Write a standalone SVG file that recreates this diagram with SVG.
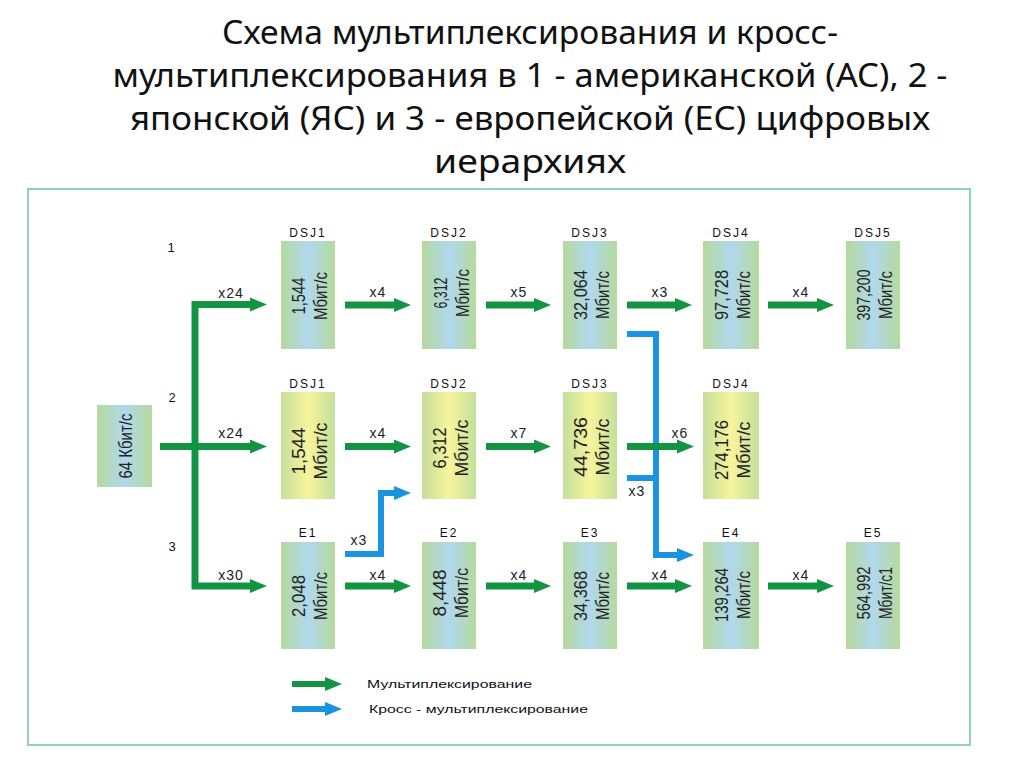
<svg xmlns="http://www.w3.org/2000/svg" width="1024" height="767" viewBox="0 0 1024 767">
<defs>
<linearGradient id="gb" x1="0" y1="0" x2="1" y2="0">
<stop offset="0" stop-color="#b5d99c"/><stop offset="0.5" stop-color="#b0d8ee"/><stop offset="1" stop-color="#b5d99c"/>
</linearGradient>
<linearGradient id="gy" x1="0" y1="0" x2="1" y2="0">
<stop offset="0" stop-color="#c4df9a"/><stop offset="0.5" stop-color="#f7f49c"/><stop offset="1" stop-color="#c4df9a"/>
</linearGradient>
<marker id="ag" markerUnits="userSpaceOnUse" markerWidth="18" markerHeight="16" viewBox="0 0 18 16" refX="2" refY="8" orient="auto">
<path d="M0,1 L17,8 L0,15 Z" fill="#129443"/>
</marker>
<marker id="ab" markerUnits="userSpaceOnUse" markerWidth="18" markerHeight="16" viewBox="0 0 18 16" refX="2" refY="8" orient="auto">
<path d="M0,1 L17,8 L0,15 Z" fill="#1a93e0"/>
</marker>
<style>
.title{font-family:"Noto Sans","Open Sans",sans-serif;font-size:32px;fill:#111;text-anchor:middle}
.bx{stroke:none}
.v{font-family:"Liberation Sans",Arial,sans-serif;font-size:18px;fill:#222;text-anchor:middle}
.lb{font-family:"Liberation Sans",Arial,sans-serif;font-size:12px;fill:#111;text-anchor:middle;letter-spacing:2px}
.m{font-family:"Liberation Sans",Arial,sans-serif;font-size:14px;fill:#222;text-anchor:middle;letter-spacing:1px}
.n{font-family:"Liberation Sans",Arial,sans-serif;font-size:13px;fill:#111;text-anchor:middle}
.lg{font-family:"Liberation Sans",Arial,sans-serif;font-size:11px;fill:#111}
.g{stroke:#129443;stroke-width:7;fill:none}
.gh{stroke:#129443;stroke-width:7;fill:none;marker-end:url(#ag)}
.b{stroke:#1a93e0;stroke-width:6;fill:none}
.bh{stroke:#1a93e0;stroke-width:6;fill:none;marker-end:url(#ab)}
</style>
</defs>
<rect width="1024" height="767" fill="#ffffff"/>
<g id="title">
<text class="title" x="530" y="44" textLength="616" lengthAdjust="spacingAndGlyphs">Схема мультиплексирования и кросс-</text>
<text class="title" x="530" y="87" textLength="835" lengthAdjust="spacingAndGlyphs">мультиплексирования в 1 - американской (АС), 2 -</text>
<text class="title" x="530" y="130" textLength="800" lengthAdjust="spacingAndGlyphs">японской (ЯС) и 3 - европейской (ЕС) цифровых</text>
<text class="title" x="530" y="173" textLength="192" lengthAdjust="spacingAndGlyphs">иерархиях</text>
</g>
<rect id="frame" x="28" y="189" width="942" height="556" fill="none" stroke="#8fd3b3" stroke-width="2"/>

<g id="rownums">
<text class="n" x="171" y="252">1</text>
<text class="n" x="172" y="402">2</text>
<text class="n" x="172" y="551">3</text>
</g>

<g id="connectors">
<!-- blue cross-multiplexing -->
<path class="bh" d="M345,554 H381 V493 H396"/>
<path class="b" d="M627,334 H656 V555"/>
<path class="b" d="M627,478 H656"/>
<path class="bh" d="M656,552 V555 H679"/>
<!-- green trunk -->
<path class="g" d="M195,301 V589"/>
<path class="gh" d="M192,304.5 H252"/>
<path class="gh" d="M160,446.5 H252"/>
<path class="gh" d="M192,586 H252"/>
<!-- row 1 -->
<path class="gh" d="M345,305 H396"/>
<path class="gh" d="M486,305 H536"/>
<path class="gh" d="M627,305 H677"/>
<path class="gh" d="M768,305 H819"/>
<!-- row 2 -->
<path class="gh" d="M345,446.5 H396"/>
<path class="gh" d="M486,446.5 H536"/>
<path class="gh" d="M627,446.5 H679"/>
<!-- row 3 -->
<path class="gh" d="M345,586 H396"/>
<path class="gh" d="M486,586 H536"/>
<path class="gh" d="M627,586 H677"/>
<path class="gh" d="M768,586 H819"/>
<!-- labels -->
<text class="m" x="231" y="298">x24</text>
<text class="m" x="231" y="438">x24</text>
<text class="m" x="231" y="580">x30</text>
<text class="m" x="378" y="297">x4</text>
<text class="m" x="519" y="297">x5</text>
<text class="m" x="660" y="297">x3</text>
<text class="m" x="801" y="297">x4</text>
<text class="m" x="378" y="438">x4</text>
<text class="m" x="519" y="438">x7</text>
<text class="m" x="680" y="438">x6</text>
<text class="m" x="378" y="580">x4</text>
<text class="m" x="519" y="580">x4</text>
<text class="m" x="660" y="580">x4</text>
<text class="m" x="801" y="580">x4</text>
<text class="m" x="359" y="545">x3</text>
<text class="m" x="637" y="496">x3</text>
</g>

<g id="n64">
<rect class="bx" x="97" y="405" width="55" height="82" fill="url(#gb)"/>
<text class="v" transform="translate(124.5,446) rotate(-90)" y="7" textLength="65" lengthAdjust="spacingAndGlyphs">64 Кбит/с</text>
</g>

<!-- Row 1 (AC) -->
<g id="ac1">
<text class="lb" x="308" y="237">DSJ1</text>
<rect class="bx" x="281" y="241" width="54" height="108" fill="url(#gb)"/>
<g transform="translate(308,296) rotate(-90)">
<text class="v" y="-3" textLength="37" lengthAdjust="spacingAndGlyphs">1,544</text>
<text class="v" y="19" textLength="48" lengthAdjust="spacingAndGlyphs">Мбит/с</text>
</g>
</g>
<g id="ac2">
<text class="lb" x="449" y="237">DSJ2</text>
<rect class="bx" x="422" y="241" width="54" height="108" fill="url(#gb)"/>
<g transform="translate(449,293) rotate(-90)">
<text class="v" y="-2" textLength="31" lengthAdjust="spacingAndGlyphs">6,312</text>
<text class="v" y="20" textLength="48" lengthAdjust="spacingAndGlyphs">Мбит/с</text>
</g>
</g>
<g id="ac3">
<text class="lb" x="590" y="237">DSJ3</text>
<rect class="bx" x="563" y="241" width="54" height="108" fill="url(#gb)"/>
<g transform="translate(590,295) rotate(-90)">
<text class="v" y="-3" textLength="50" lengthAdjust="spacingAndGlyphs">32,064</text>
<text class="v" y="19" textLength="48" lengthAdjust="spacingAndGlyphs">Мбит/с</text>
</g>
</g>
<g id="ac4">
<text class="lb" x="731" y="237">DSJ4</text>
<rect class="bx" x="703" y="241" width="56" height="108" fill="url(#gb)"/>
<g transform="translate(731,295) rotate(-90)">
<text class="v" y="-3" textLength="50" lengthAdjust="spacingAndGlyphs">97,728</text>
<text class="v" y="19" textLength="48" lengthAdjust="spacingAndGlyphs">Мбит/с</text>
</g>
</g>
<g id="ac5">
<text class="lb" x="873" y="237">DSJ5</text>
<rect class="bx" x="846" y="241" width="54" height="108" fill="url(#gb)"/>
<g transform="translate(873,295) rotate(-90)">
<text class="v" y="-3" textLength="51" lengthAdjust="spacingAndGlyphs">397,200</text>
<text class="v" y="19" textLength="48" lengthAdjust="spacingAndGlyphs">Мбит/с</text>
</g>
</g>

<!-- Row 2 (JC) -->
<g id="jc1">
<text class="lb" x="308" y="388">DSJ1</text>
<rect class="bx" x="281" y="392" width="54" height="107" fill="url(#gy)"/>
<g transform="translate(308,451) rotate(-90)">
<text class="v" y="-3" textLength="47" lengthAdjust="spacingAndGlyphs">1,544</text>
<text class="v" y="19" textLength="57" lengthAdjust="spacingAndGlyphs">Мбит/с</text>
</g>
</g>
<g id="jc2">
<text class="lb" x="449" y="388">DSJ2</text>
<rect class="bx" x="422" y="392" width="54" height="107" fill="url(#gy)"/>
<g transform="translate(449,448) rotate(-90)">
<text class="v" y="-3" textLength="41" lengthAdjust="spacingAndGlyphs">6,312</text>
<text class="v" y="19" textLength="57" lengthAdjust="spacingAndGlyphs">Мбит/с</text>
</g>
</g>
<g id="jc3">
<text class="lb" x="590" y="388">DSJ3</text>
<rect class="bx" x="563" y="392" width="54" height="107" fill="url(#gy)"/>
<g transform="translate(590,447) rotate(-90)">
<text class="v" y="-3" textLength="60" lengthAdjust="spacingAndGlyphs">44,736</text>
<text class="v" y="19" textLength="57" lengthAdjust="spacingAndGlyphs">Мбит/с</text>
</g>
</g>
<g id="jc4">
<text class="lb" x="731" y="388">DSJ4</text>
<rect class="bx" x="703" y="392" width="56" height="107" fill="url(#gy)"/>
<g transform="translate(731,450) rotate(-90)">
<text class="v" y="-3" textLength="60" lengthAdjust="spacingAndGlyphs">274,176</text>
<text class="v" y="19" textLength="57" lengthAdjust="spacingAndGlyphs">Мбит/с</text>
</g>
</g>

<!-- Row 3 (EC) -->
<g id="ec1">
<text class="lb" x="308" y="537">E1</text>
<rect class="bx" x="281" y="542" width="54" height="107" fill="url(#gb)"/>
<g transform="translate(308,596) rotate(-90)">
<text class="v" y="-3" textLength="42" lengthAdjust="spacingAndGlyphs">2,048</text>
<text class="v" y="19" textLength="48" lengthAdjust="spacingAndGlyphs">Мбит/с</text>
</g>
</g>
<g id="ec2">
<text class="lb" x="449" y="537">E2</text>
<rect class="bx" x="422" y="542" width="54" height="107" fill="url(#gb)"/>
<g transform="translate(449,593) rotate(-90)">
<text class="v" y="-3" textLength="47" lengthAdjust="spacingAndGlyphs">8,448</text>
<text class="v" y="19" textLength="50" lengthAdjust="spacingAndGlyphs">Мбит/с</text>
</g>
</g>
<g id="ec3">
<text class="lb" x="590" y="537">E3</text>
<rect class="bx" x="563" y="542" width="54" height="107" fill="url(#gb)"/>
<g transform="translate(590,596) rotate(-90)">
<text class="v" y="-3" textLength="50" lengthAdjust="spacingAndGlyphs">34,368</text>
<text class="v" y="19" textLength="48" lengthAdjust="spacingAndGlyphs">Мбит/с</text>
</g>
</g>
<g id="ec4">
<text class="lb" x="731" y="537">E4</text>
<rect class="bx" x="703" y="542" width="56" height="107" fill="url(#gb)"/>
<g transform="translate(731,595) rotate(-90)">
<text class="v" y="-3" textLength="54" lengthAdjust="spacingAndGlyphs">139,264</text>
<text class="v" y="19" textLength="48" lengthAdjust="spacingAndGlyphs">Мбит/с</text>
</g>
</g>
<g id="ec5">
<text class="lb" x="873" y="537">E5</text>
<rect class="bx" x="846" y="542" width="54" height="107" fill="url(#gb)"/>
<g transform="translate(873,593) rotate(-90)">
<text class="v" y="-3" textLength="53" lengthAdjust="spacingAndGlyphs">564,992</text>
<text class="v" y="19" textLength="52" lengthAdjust="spacingAndGlyphs">Мбит/с1</text>
</g>
</g>

<g id="legend">
<path class="gh" d="M292,684 H327" style="stroke-width:6"/>
<path class="bh" d="M292,709 H327" style="stroke-width:6"/>
<text class="lg" x="367" y="688" textLength="165" lengthAdjust="spacingAndGlyphs">Мультиплексирование</text>
<text class="lg" x="369" y="713" textLength="219" lengthAdjust="spacingAndGlyphs">Кросс - мультиплексирование</text>
</g>
</svg>
